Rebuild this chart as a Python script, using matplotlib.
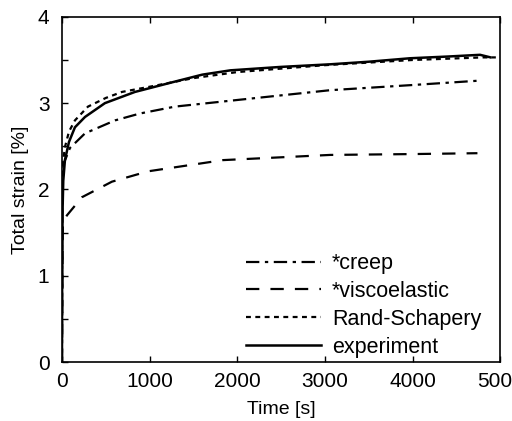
"""Total strain vs time: creep models against experiment."""

import matplotlib.pyplot as plt
from matplotlib.ticker import MultipleLocator

plt.rcParams['font.family'] = ['Liberation Sans', 'DejaVu Sans']

# experiment
t_exp = [0, 3, 8, 15, 34, 80, 148, 263, 490, 833, 1290, 1600, 1920, 2500, 3060, 3500, 3970, 4400, 4770, 4890]
strain_exp = [0, 1.2, 1.8, 2.1, 2.34, 2.55, 2.72, 2.84, 3.0, 3.13, 3.25, 3.33, 3.38, 3.42, 3.45, 3.48, 3.52, 3.54, 3.56, 3.53]

# Rand-Schapery model
t_rs = [0, 2, 10, 34, 80, 148, 297, 500, 685, 1000, 1500, 2000, 3000, 4000, 4800, 4950]
strain_rs = [0, 2.0, 2.3, 2.49, 2.67, 2.8, 2.96, 3.06, 3.13, 3.19, 3.29, 3.36, 3.44, 3.50, 3.53, 3.53]

# *creep model
t_creep = [0, 5, 20, 91, 263, 605, 890, 1290, 2032, 3059, 4000, 4750]
strain_creep = [0, 2.1, 2.3, 2.48, 2.65, 2.8, 2.88, 2.96, 3.04, 3.15, 3.21, 3.26]

# *viscoelastic model
t_visco = [0, 10, 57, 228, 570, 982, 1838, 3059, 4000, 4740]
strain_visco = [0, 1.62, 1.70, 1.91, 2.09, 2.21, 2.34, 2.40, 2.41, 2.42]

fig, ax = plt.subplots(figsize=(5.12, 4.21), dpi=100)
fig.subplots_adjust(left=0.121, right=0.977, top=0.960, bottom=0.140)

ax.plot(t_creep, strain_creep, color='black', lw=1.6, dashes=(6, 2.5, 1.5, 2.5), label='*creep')
ax.plot(t_visco, strain_visco, color='black', lw=1.6, dashes=(6, 5), label='*viscoelastic')
ax.plot(t_rs, strain_rs, color='black', lw=1.6, dashes=(2.2, 2), label='Rand-Schapery')
ax.plot(t_exp, strain_exp, color='black', lw=1.8, label='experiment')

ax.set_xlim(0, 5000)
ax.set_ylim(0, 4)
ax.xaxis.set_major_locator(MultipleLocator(1000))
ax.yaxis.set_major_locator(MultipleLocator(1))
ax.yaxis.set_minor_locator(MultipleLocator(0.5))
ax.tick_params(which='both', direction='in', top=True, right=False, labelsize=15, width=1)
ax.tick_params(which='major', length=4)
ax.tick_params(which='minor', length=4)
ax.tick_params(axis='x', pad=7.5)
ax.tick_params(axis='y', pad=9)
for sp in ax.spines.values():
    sp.set_linewidth(1.2)

ax.set_xlabel('Time [s]', fontsize=14, labelpad=7)
ax.set_ylabel('Total strain [%]', fontsize=14, labelpad=6)

# legend without frame in the lower right of the axes
ax.legend(loc='lower left', bbox_to_anchor=(0.41, 0.0), frameon=False, fontsize=15.5,
          handlelength=3.5, handletextpad=0.5, labelspacing=0.32, borderaxespad=0.2, borderpad=0)

fig.savefig('out.png', dpi=100)
